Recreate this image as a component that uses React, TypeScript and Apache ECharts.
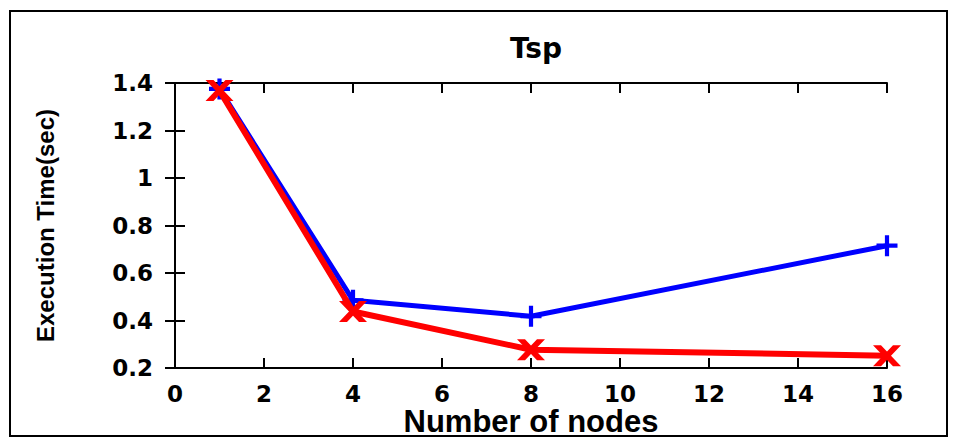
import React, { useEffect, useRef } from "react";
import * as echarts from "echarts";

const nodes = [1, 4, 8, 16];
const blueTimes = [1.375, 0.485, 0.418, 0.715];
const redTimes = [1.368, 0.438, 0.277, 0.252];
const xTicks = [0, 2, 4, 6, 8, 10, 12, 14, 16];
const yTicks = [0.2, 0.4, 0.6, 0.8, 1, 1.2, 1.4];

const PLUS = "path://M8,0 H12 V8 H20 V12 H12 V20 H8 V12 H0 V8 H8 Z";
const CROSS = "path://M0,0 L8,0 L28,21 L20,21 Z M20,0 L28,0 L8,21 L0,21 Z";

export default function App() {
  const ref = useRef<HTMLDivElement>(null);
  useEffect(() => {
    if (!ref.current) return;
    const chart = echarts.init(ref.current, null, { renderer: "svg" });
    const labelFont = { fontFamily: "DejaVu Sans", fontWeight: "bold" as const, fontSize: 23, color: "#000" };
    const nameFont = { fontFamily: "Liberation Sans", fontWeight: "bold" as const, color: "#000" };
    const axisLine = { show: true, lineStyle: { color: "#000", width: 2 } };
    const tick = { show: true, inside: true, length: 10, lineStyle: { color: "#000", width: 2 } };
    chart.setOption({
      animation: false,
      backgroundColor: "#fff",
      title: {
        text: "Tsp",
        left: 531,
        top: 29,
        textAlign: "center",
        textStyle: { fontFamily: "DejaVu Sans", fontWeight: "bold", fontSize: 28, color: "#000" },
      },
      graphic: [
        {
          type: "rect",
          shape: { x: 10, y: 11, width: 937, height: 425 },
          style: { fill: "none", stroke: "#000", lineWidth: 2 },
          z: 100,
        },
      ],
      grid: { left: 175, right: 66, top: 83, bottom: 70, containLabel: false, outerBoundsMode: "none" },
      xAxis: [
        {
          type: "value",
          min: xTicks[0],
          max: xTicks[xTicks.length - 1],
          interval: 2,
          position: "bottom",
          axisLine,
          axisTick: tick,
          splitLine: { show: false },
          axisLabel: { ...labelFont, margin: 14 },
          name: "Number of nodes",
          nameLocation: "middle",
          nameGap: 38,
          nameMoveOverlap: false,
          nameTextStyle: { ...nameFont, fontSize: 31 },
        },
        {
          type: "value",
          min: xTicks[0],
          max: xTicks[xTicks.length - 1],
          interval: 2,
          position: "top",
          axisLine,
          axisTick: tick,
          splitLine: { show: false },
          axisLabel: { show: false },
        },
      ],
      yAxis: [
        {
          type: "value",
          min: yTicks[0],
          max: yTicks[yTicks.length - 1],
          interval: 0.2,
          position: "left",
          axisLine,
          axisTick: tick,
          splitLine: { show: false },
          axisLabel: {
            ...labelFont,
            margin: 22,
            formatter: (v: number) => String(+v.toFixed(1)),
          },
          name: "Execution Time(sec)",
          nameLocation: "middle",
          nameGap: 118,
          nameMoveOverlap: false,
          nameTextStyle: { ...nameFont, fontSize: 24 },
        },
        {
          type: "value",
          min: yTicks[0],
          max: yTicks[yTicks.length - 1],
          interval: 0.2,
          position: "right",
          axisLine,
          axisTick: tick,
          splitLine: { show: false },
          axisLabel: { show: false },
        },
      ],
      series: [
        {
          type: "line",
          data: nodes.map((n, i) => [n, blueTimes[i]]),
          lineStyle: { color: "#0000ff", width: 5 },
          itemStyle: { color: "#0000ff" },
          symbol: PLUS,
          symbolSize: 21,
          showAllSymbol: true,
          z: 2,
        },
        {
          type: "line",
          data: nodes.map((n, i) => [n, redTimes[i]]),
          lineStyle: { color: "#ff0000", width: 6 },
          itemStyle: { color: "#ff0000" },
          symbol: CROSS,
          symbolSize: [28, 21],
          showAllSymbol: true,
          z: 3,
        },
      ],
    });
    return () => chart.dispose();
  }, []);
  return (
    <div
      ref={ref}
      style={{ position: "fixed", left: 0, top: 0, width: 953, height: 438 }}
    />
  );
}
